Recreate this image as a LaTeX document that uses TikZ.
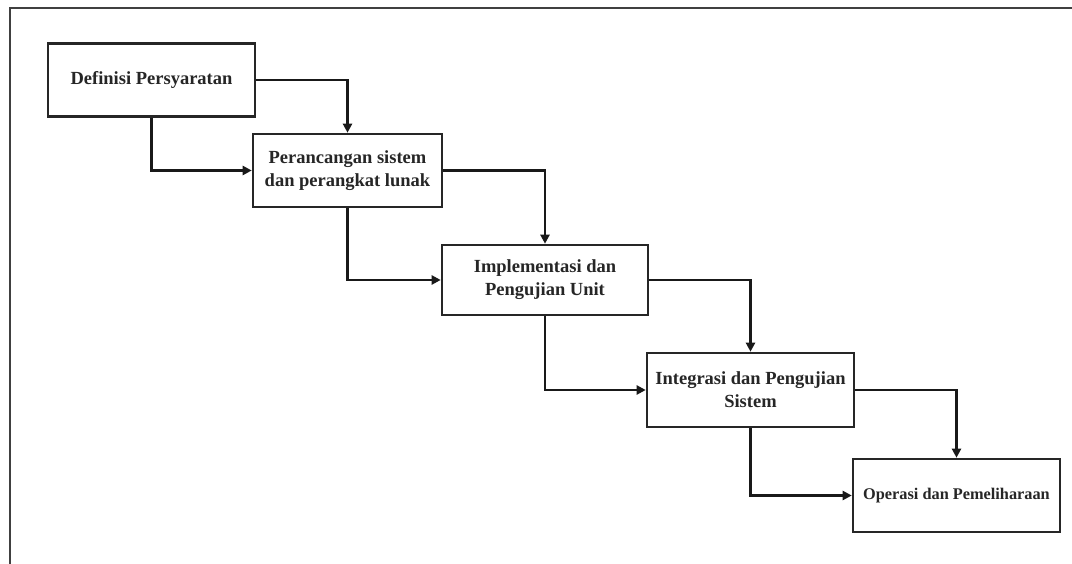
\documentclass[tikz,border=0pt]{standalone}
\usepackage{fontspec}
\setmainfont{Liberation Serif}
\usetikzlibrary{arrows.meta}
\begin{document}
\begin{tikzpicture}[x=1pt,y=-1pt,
  stage/.style={draw=black!85, line width=2.6pt, fill=white, inner sep=0pt,
    minimum width=207pt, minimum height=73pt, align=center,
    font=\fontsize{18.5}{23}\selectfont\bfseries, text=black!85},
  flow/.style={draw=black!90, line width=2.4pt, -{Triangle[length=9pt,width=9pt]}},
  frame/.style={draw=black!75, line width=2.8pt}]
\useasboundingbox (0,0) rectangle (1072,564);
\draw[frame] (10,564) -- (10,8) -- (1072,8);
\node[stage] (b1) at (151.5,80) {Definisi Persyaratan};
\node[stage, minimum width=189pt] (b2) at (347.5,170.5) {Perancangan sistem\\dan perangkat lunak};
\node[stage, minimum width=206pt, minimum height=70pt] (b3) at (545,280) {Implementasi dan\\Pengujian Unit};
\node[stage, minimum height=74pt] (b4) at (750.5,390) {Integrasi dan Pengujian\\Sistem};
\node[stage, font=\fontsize{16.3}{20}\selectfont\bfseries] (b5) at (956.5,495.5) {Operasi dan Pemeliharaan};
\draw[flow] (b1.east) -| (b2.north);
\draw[flow] (b1.south) |- (b2.west);
\draw[flow] (b2.east) -| (b3.north);
\draw[flow] (b2.south) |- (b3.west);
\draw[flow] (b3.east) -| (b4.north);
\draw[flow] (b3.south) |- (b4.west);
\draw[flow] (b4.east) -| (b5.north);
\draw[flow] (b4.south) |- (b5.west);
\end{tikzpicture}
\end{document}
